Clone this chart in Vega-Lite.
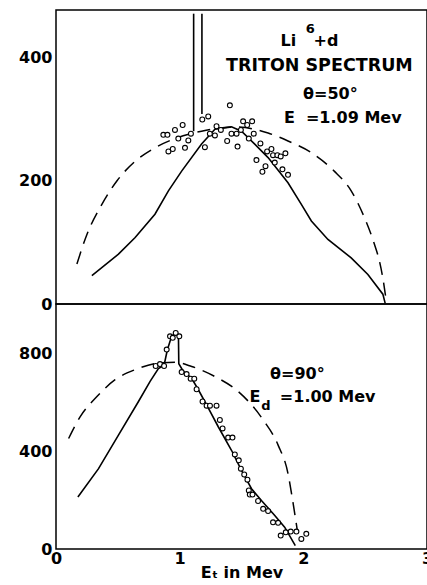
{
  "$schema": "https://vega.github.io/schema/vega-lite/v6.json",
  "background": "white",
  "padding": {"left": 17, "top": 9, "right": 0, "bottom": 0},
  "spacing": 0,
  "bounds": "flush",
  "config": {
    "font": "DejaVu Sans",
    "view": {"stroke": "black", "strokeWidth": 1.5},
    "axis": {
      "domain": false, "grid": false, "ticks": false,
      "labelColor": "black", "labelFont": "DejaVu Sans", "labelFontWeight": "bold",
      "labelFontSize": 16, "labelFlush": false, "labelOverlap": false, "labelBound": false,
      "titleColor": "black", "titleFont": "DejaVu Sans", "titleFontWeight": "bold", "titleFontSize": 16
    }
  },
  "datasets": {
    "top_solid": [
      {"x":0.29,"y":46},{"x":0.505,"y":81},{"x":0.64,"y":108},{"x":0.80,"y":146},{"x":0.909,"y":184},
      {"x":1.016,"y":216},{"x":1.177,"y":260},{"x":1.285,"y":284},{"x":1.419,"y":288},{"x":1.5,"y":281},
      {"x":1.607,"y":260},{"x":1.715,"y":238},{"x":1.876,"y":197},{"x":1.984,"y":162},{"x":2.065,"y":135},
      {"x":2.199,"y":105},{"x":2.387,"y":75},{"x":2.522,"y":48},{"x":2.643,"y":16},{"x":2.662,"y":1}
    ],
    "top_dashed": [
      {"x":0.169,"y":65},{"x":0.25,"y":113},{"x":0.371,"y":162},{"x":0.492,"y":200},{"x":0.64,"y":232},
      {"x":0.80,"y":254},{"x":0.962,"y":269},{"x":1.177,"y":281},{"x":1.446,"y":288},{"x":1.715,"y":278},
      {"x":1.876,"y":265},{"x":2.065,"y":246},{"x":2.25,"y":216},{"x":2.387,"y":184},{"x":2.495,"y":140},
      {"x":2.575,"y":97},{"x":2.615,"y":70},{"x":2.643,"y":42},{"x":2.669,"y":7}
    ],
    "top_spike": [
      {"line":"a","x":1.113,"y":281},{"line":"a","x":1.113,"y":472},
      {"line":"b","x":1.18,"y":309},{"line":"b","x":1.18,"y":472}
    ],
    "top_points": [
      {"x":0.868,"y":275},{"x":0.901,"y":275},{"x":0.909,"y":248},{"x":0.944,"y":252},{"x":0.962,"y":283},
      {"x":0.989,"y":269},{"x":1.024,"y":291},{"x":1.043,"y":254},{"x":1.070,"y":266},{"x":1.091,"y":277},
      {"x":1.183,"y":300},{"x":1.231,"y":305},{"x":1.204,"y":255},{"x":1.244,"y":277},{"x":1.285,"y":274},
      {"x":1.298,"y":289},{"x":1.333,"y":283},{"x":1.384,"y":265},{"x":1.406,"y":323},{"x":1.419,"y":277},
      {"x":1.46,"y":277},{"x":1.468,"y":256},{"x":1.495,"y":283},{"x":1.513,"y":297},{"x":1.546,"y":291},
      {"x":1.559,"y":269},{"x":1.586,"y":297},{"x":1.599,"y":277},{"x":1.653,"y":261},{"x":1.621,"y":234},
      {"x":1.669,"y":215},{"x":1.694,"y":224},{"x":1.707,"y":248},{"x":1.742,"y":252},{"x":1.755,"y":242},
      {"x":1.79,"y":242},{"x":1.769,"y":230},{"x":1.817,"y":240},{"x":1.831,"y":219},{"x":1.855,"y":245},
      {"x":1.876,"y":210}
    ],
    "top_text": [
      {"t":"Li","x":1.879,"y":420},{"t":"+d","x":2.183,"y":420},
      {"t":"θ=50°","x":2.219,"y":334},
      {"t":"E","x":1.888,"y":294},{"t":"=1.09 Mev","x":2.408,"y":294}
    ],
    "top_title": [{"t":"TRITON SPECTRUM","x":2.13,"y":379}],
    "top_sup": [{"t":"6","x":2.057,"y":440}],
    "top_y_major": [{"v":100},{"v":200},{"v":300},{"v":400}],
    "top_y_minor": [{"v":50},{"v":150},{"v":250},{"v":350},{"v":450}],
    "x_major": [{"v":1},{"v":2}],
    "x_minor": [{"v":0.5},{"v":1.5},{"v":2.5}],
    "bottom_solid": [
      {"x":0.177,"y":212},{"x":0.344,"y":328},{"x":0.505,"y":465},{"x":0.667,"y":602},{"x":0.761,"y":684},
      {"x":0.828,"y":736},{"x":0.874,"y":750},{"x":0.901,"y":814},{"x":0.935,"y":868},{"x":0.968,"y":882},
      {"x":0.99,"y":875},{"x":0.993,"y":756},{"x":1.03,"y":725},{"x":1.097,"y":697},{"x":1.151,"y":650},
      {"x":1.218,"y":588},{"x":1.312,"y":499},{"x":1.419,"y":403},{"x":1.5,"y":321},{"x":1.581,"y":246},
      {"x":1.661,"y":198},{"x":1.769,"y":137},{"x":1.849,"y":89},{"x":1.935,"y":14}
    ],
    "bottom_dashed": [
      {"x":0.102,"y":451},{"x":0.196,"y":540},{"x":0.331,"y":622},{"x":0.478,"y":691},{"x":0.64,"y":732},
      {"x":0.828,"y":759},{"x":0.962,"y":762},{"x":1.097,"y":745},{"x":1.285,"y":704},{"x":1.473,"y":643},
      {"x":1.675,"y":527},{"x":1.796,"y":424},{"x":1.876,"y":308},{"x":1.91,"y":210},{"x":1.935,"y":130},
      {"x":1.95,"y":80}
    ],
    "bottom_points": [
      {"x":0.806,"y":747},{"x":0.841,"y":755},{"x":0.874,"y":747},{"x":0.895,"y":814},{"x":0.922,"y":868},
      {"x":0.944,"y":862},{"x":0.968,"y":882},{"x":0.997,"y":868},{"x":1.016,"y":722},{"x":1.056,"y":714},
      {"x":1.089,"y":695},{"x":1.118,"y":695},{"x":1.137,"y":652},{"x":1.185,"y":602},{"x":1.218,"y":585},
      {"x":1.245,"y":585},{"x":1.298,"y":585},{"x":1.325,"y":527},{"x":1.347,"y":492},{"x":1.392,"y":455},
      {"x":1.427,"y":455},{"x":1.446,"y":386},{"x":1.478,"y":362},{"x":1.495,"y":328},{"x":1.522,"y":304},
      {"x":1.548,"y":283},{"x":1.559,"y":239},{"x":1.567,"y":222},{"x":1.589,"y":222},{"x":1.634,"y":196},
      {"x":1.675,"y":164},{"x":1.715,"y":155},{"x":1.755,"y":109},{"x":1.796,"y":107},{"x":1.817,"y":55},
      {"x":1.858,"y":68},{"x":1.898,"y":71},{"x":1.944,"y":71},{"x":1.984,"y":41},{"x":2.024,"y":62}
    ],
    "bottom_text": [
      {"t":"θ=90°","x":1.952,"y":694},{"t":"E","x":1.609,"y":598},{"t":"=1.00 Mev","x":2.197,"y":598}
    ],
    "bottom_sub": [{"t":"d","x":1.698,"y":568}],
    "bottom_y_major": [{"v":200},{"v":400},{"v":600},{"v":800}],
    "bottom_y_minor": [{"v":100},{"v":300},{"v":500},{"v":700},{"v":900}]
  },
  "vconcat": [
    {
      "width": 371,
      "height": 294,
      "encoding": {
        "x": {"field": "x", "type": "quantitative",
          "scale": {"domain": [0, 3], "nice": false, "zero": false},
          "axis": {"title": null, "values": [0.5, 1, 1.5, 2, 2.5], "labels": false}},
        "y": {"field": "y", "type": "quantitative",
          "scale": {"domain": [0, 478], "nice": false, "zero": false},
          "axis": {"title": null, "values": [0, 200, 400], "labelPadding": 4, "format": "d"}}
      },
      "layer": [
        {"data": {"name": "top_y_major"}, "mark": {"type": "rule", "color": "black", "strokeWidth": 1.6},
          "encoding": {"x": {"datum": 0, "type": "quantitative"}, "x2": {"datum": 0.097}, "y": {"field": "v", "type": "quantitative"}}},
        {"data": {"name": "top_y_minor"}, "mark": {"type": "rule", "color": "black", "strokeWidth": 1.6},
          "encoding": {"x": {"datum": 0, "type": "quantitative"}, "x2": {"datum": 0.057}, "y": {"field": "v", "type": "quantitative"}}},
        {"data": {"name": "x_major"}, "mark": {"type": "rule", "color": "black", "strokeWidth": 1.6},
          "encoding": {"x": {"field": "v", "type": "quantitative"}, "y": {"datum": 0, "type": "quantitative"}, "y2": {"datum": 19.6}}},
        {"data": {"name": "x_minor"}, "mark": {"type": "rule", "color": "black", "strokeWidth": 1.6},
          "encoding": {"x": {"field": "v", "type": "quantitative"}, "y": {"datum": 0, "type": "quantitative"}, "y2": {"datum": 11.4}}},
        {"data": {"name": "top_dashed"}, "mark": {"type": "line", "color": "black", "strokeWidth": 1.5, "strokeDash": [13, 8], "interpolate": "monotone"}},
        {"data": {"name": "top_solid"}, "mark": {"type": "line", "color": "black", "strokeWidth": 1.6}},
        {"data": {"name": "top_spike"}, "mark": {"type": "line", "color": "black", "strokeWidth": 1.6}, "encoding": {"detail": {"field": "line"}}},
        {"data": {"name": "top_points"}, "mark": {"type": "point", "shape": "circle", "filled": false, "stroke": "black", "strokeWidth": 1.1, "size": 24, "opacity": 1, "fill": "white"}},
        {"data": {"name": "top_text"}, "mark": {"type": "text", "align": "center", "baseline": "alphabetic", "fontSize": 16, "fontWeight": "bold", "color": "black"}, "encoding": {"text": {"field": "t"}}},
        {"data": {"name": "top_title"}, "mark": {"type": "text", "align": "center", "baseline": "alphabetic", "fontSize": 17.5, "fontWeight": "bold", "color": "black"}, "encoding": {"text": {"field": "t"}}},
        {"data": {"name": "top_sup"}, "mark": {"type": "text", "align": "center", "baseline": "alphabetic", "fontSize": 13, "fontWeight": "bold", "color": "black"}, "encoding": {"text": {"field": "t"}}}
      ]
    },
    {
      "width": 371,
      "height": 245,
      "encoding": {
        "x": {"field": "x", "type": "quantitative",
          "scale": {"domain": [0, 3], "nice": false, "zero": false},
          "axis": {"title": "Eₜ in Mev", "titlePadding": -2, "values": [0, 1, 2, 3], "format": "d", "labelPadding": 1}},
        "y": {"field": "y", "type": "quantitative",
          "scale": {"domain": [0, 1000], "nice": false, "zero": false},
          "axis": {"title": null, "values": [0, 400, 800], "format": "d", "labelPadding": 4}}
      },
      "layer": [
        {"data": {"name": "bottom_y_major"}, "mark": {"type": "rule", "color": "black", "strokeWidth": 1.6},
          "encoding": {"x": {"datum": 0, "type": "quantitative"}, "x2": {"datum": 0.097}, "y": {"field": "v", "type": "quantitative"}}},
        {"data": {"name": "bottom_y_minor"}, "mark": {"type": "rule", "color": "black", "strokeWidth": 1.6},
          "encoding": {"x": {"datum": 0, "type": "quantitative"}, "x2": {"datum": 0.065}, "y": {"field": "v", "type": "quantitative"}}},
        {"data": {"name": "x_major"}, "mark": {"type": "rule", "color": "black", "strokeWidth": 1.6},
          "encoding": {"x": {"field": "v", "type": "quantitative"}, "y": {"datum": 0, "type": "quantitative"}, "y2": {"datum": 49}}},
        {"data": {"name": "x_minor"}, "mark": {"type": "rule", "color": "black", "strokeWidth": 1.6},
          "encoding": {"x": {"field": "v", "type": "quantitative"}, "y": {"datum": 0, "type": "quantitative"}, "y2": {"datum": 28.6}}},
        {"data": {"name": "bottom_dashed"}, "mark": {"type": "line", "color": "black", "strokeWidth": 1.5, "strokeDash": [13, 8], "interpolate": "monotone"}},
        {"data": {"name": "bottom_solid"}, "mark": {"type": "line", "color": "black", "strokeWidth": 1.6}},
        {"data": {"name": "bottom_points"}, "mark": {"type": "point", "shape": "circle", "filled": false, "stroke": "black", "strokeWidth": 1.1, "size": 24, "opacity": 1, "fill": "white"}},
        {"data": {"name": "bottom_text"}, "mark": {"type": "text", "align": "center", "baseline": "alphabetic", "fontSize": 16, "fontWeight": "bold", "color": "black"}, "encoding": {"text": {"field": "t"}}},
        {"data": {"name": "bottom_sub"}, "mark": {"type": "text", "align": "center", "baseline": "alphabetic", "fontSize": 13, "fontWeight": "bold", "color": "black"}, "encoding": {"text": {"field": "t"}}}
      ]
    }
  ]
}
